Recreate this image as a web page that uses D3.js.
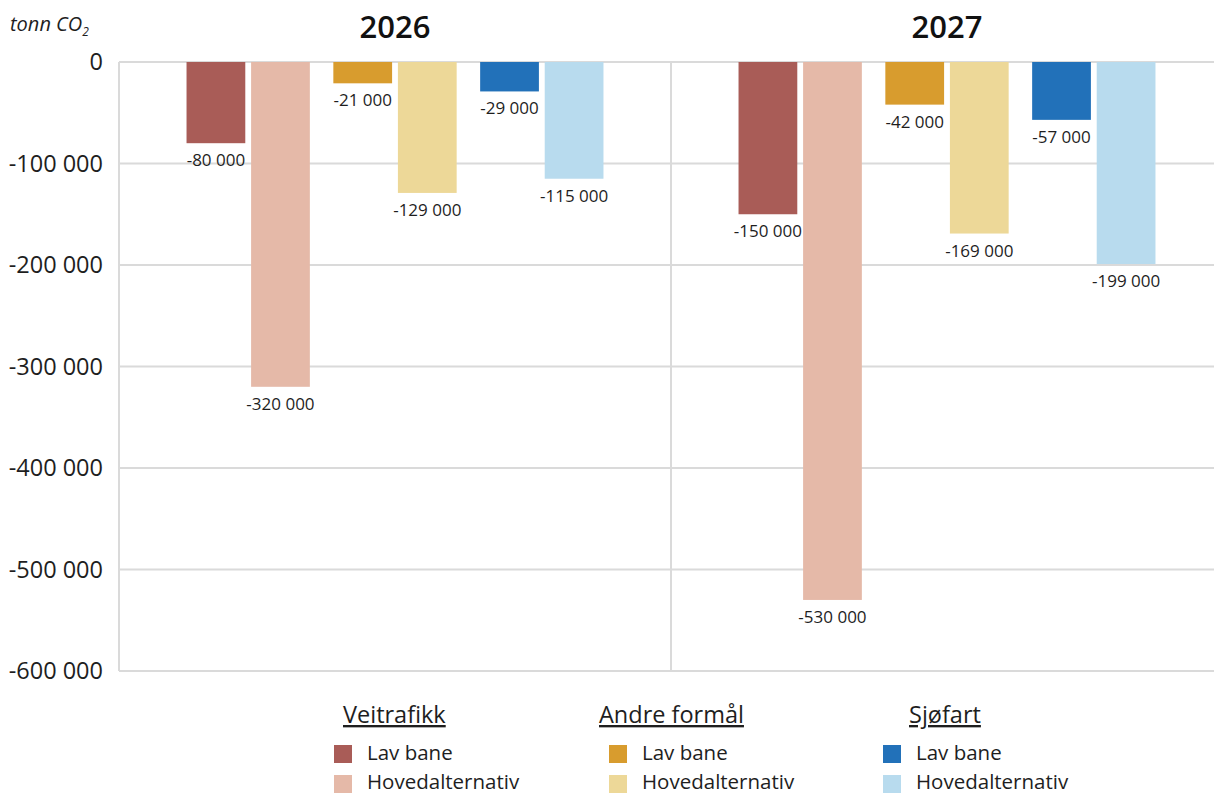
<!DOCTYPE html>
<html>
<head>
<meta charset="utf-8">
<script src="https://cdn.jsdelivr.net/npm/d3@7"></script>
<style>
  body { margin: 0; background: #fff; }
  svg { font-family: "Open Sans", sans-serif; display: block; }
</style>
</head>
<body>
<svg id="chart" width="1214" height="793"></svg>
<script>
// years shown as two panels
const years = ["2026", "2027"];
// sectors, in order from left to right inside a panel
const sectors = ["Veitrafikk", "Andre formål", "Sjøfart"];
const scenarios = ["Lav bane", "Hovedalternativ"];

// values per year: [Lav bane, Hovedalternativ] for each sector
const veitrafikk = { "2026": [-80000, -320000], "2027": [-150000, -530000] };
const andreFormal = { "2026": [-21000, -129000], "2027": [-42000, -169000] };
const sjofart = { "2026": [-29000, -115000], "2027": [-57000, -199000] };

const yTicks = [0, -100000, -200000, -300000, -400000, -500000, -600000];

const colors = {
  "Veitrafikk": ["#a95c57", "#e5b9a8"],
  "Andre formål": ["#d89c2e", "#edd898"],
  "Sjøfart": ["#2271b9", "#b8dbee"]
};

const sectorData = { "Veitrafikk": veitrafikk, "Andre formål": andreFormal, "Sjøfart": sjofart };

const svg = d3.select("#chart");
const margin = { left: 119, top: 62, bottom: 671 };
// space as thousands separator, plain hyphen for minus
const fmt = v => d3.format(",")(v).replace(/,/g, " ").replace("\u2212", "-");

const y = d3.scaleLinear().domain([0, -600000]).range([margin.top, margin.bottom]);
const xPanel = d3.scaleBand().domain(years).range([margin.left, 1223]);
const xSector = d3.scaleBand().domain(sectors).range([0, xPanel.bandwidth()])
  .paddingInner(0.16).paddingOuter(0.46);
const xScen = d3.scaleBand().domain(scenarios).range([0, xSector.bandwidth()]).paddingInner(0.09);

// gridlines
svg.append("g").selectAll("line").data(yTicks).join("line")
  .attr("x1", margin.left).attr("x2", 1214)
  .attr("y1", d => y(d)).attr("y2", d => y(d))
  .attr("stroke", "#dadada").attr("stroke-width", 2);

// left edge and panel divider
svg.append("g").selectAll("line").data(years).join("line")
  .attr("x1", d => xPanel(d)).attr("x2", d => xPanel(d))
  .attr("y1", margin.top).attr("y2", margin.bottom)
  .attr("stroke", "#dadada").attr("stroke-width", 2);

// y tick labels
svg.append("g").selectAll("text").data(yTicks).join("text")
  .attr("x", 103).attr("y", d => y(d) + 8)
  .attr("text-anchor", "end")
  .attr("font-size", 23.5).attr("fill", "#1e1e1e")
  .text(d => fmt(d));

// unit label
const unit = svg.append("text").attr("x", 10).attr("y", 31)
  .attr("font-size", 20).attr("font-style", "italic").attr("fill", "#1e1e1e");
unit.append("tspan").text("tonn CO");
unit.append("tspan").attr("font-size", 12).attr("dy", 5).text("2");

// flatten bars
const bars = [];
years.forEach(yr => sectors.forEach(s => scenarios.forEach((sc, i) => {
  bars.push({ year: yr, sector: s, scen: sc, i: i, value: sectorData[s][yr][i] });
})));

const barX = d => xPanel(d.year) + xSector(d.sector) + xScen(d.scen);

svg.append("g").selectAll("rect").data(bars).join("rect")
  .attr("x", barX)
  .attr("y", y(0))
  .attr("width", xScen.bandwidth())
  .attr("height", d => y(d.value) - y(0))
  .attr("fill", d => colors[d.sector][d.i]);

svg.append("g").selectAll("text").data(bars).join("text")
  .attr("x", d => barX(d) + xScen.bandwidth() / 2)
  .attr("y", d => y(d.value) + 23)
  .attr("text-anchor", "middle")
  .attr("font-size", 17).attr("fill", "#1e1e1e")
  .text(d => fmt(d.value));

// panel titles
svg.append("g").selectAll("text").data(years).join("text")
  .attr("x", d => xPanel(d) + xSector("Andre formål") + xSector.bandwidth() / 2)
  .attr("y", 38)
  .attr("text-anchor", "middle")
  .attr("font-size", 31).attr("font-weight", 600).attr("fill", "#111")
  .text(d => d);

// legend
const legendCols = [
  { sector: "Veitrafikk", hx: 343, sx: 334 },
  { sector: "Andre formål", hx: 599, sx: 609 },
  { sector: "Sjøfart", hx: 909, sx: 883 }
];
const lg = svg.append("g");
legendCols.forEach(c => {
  lg.append("text").attr("x", c.hx).attr("y", 723)
    .attr("font-size", 23.5).attr("fill", "#1e1e1e")
    .attr("text-decoration", "underline")
    .text(c.sector);
  scenarios.forEach((sc, i) => {
    lg.append("rect").attr("x", c.sx).attr("y", 745 + i * 30)
      .attr("width", 18).attr("height", 18)
      .attr("fill", colors[c.sector][i]);
    lg.append("text").attr("x", c.sx + 33).attr("y", 760 + i * 29)
      .attr("font-size", 20.5).attr("fill", "#1e1e1e")
      .text(sc);
  });
});
</script>
</body>
</html>
